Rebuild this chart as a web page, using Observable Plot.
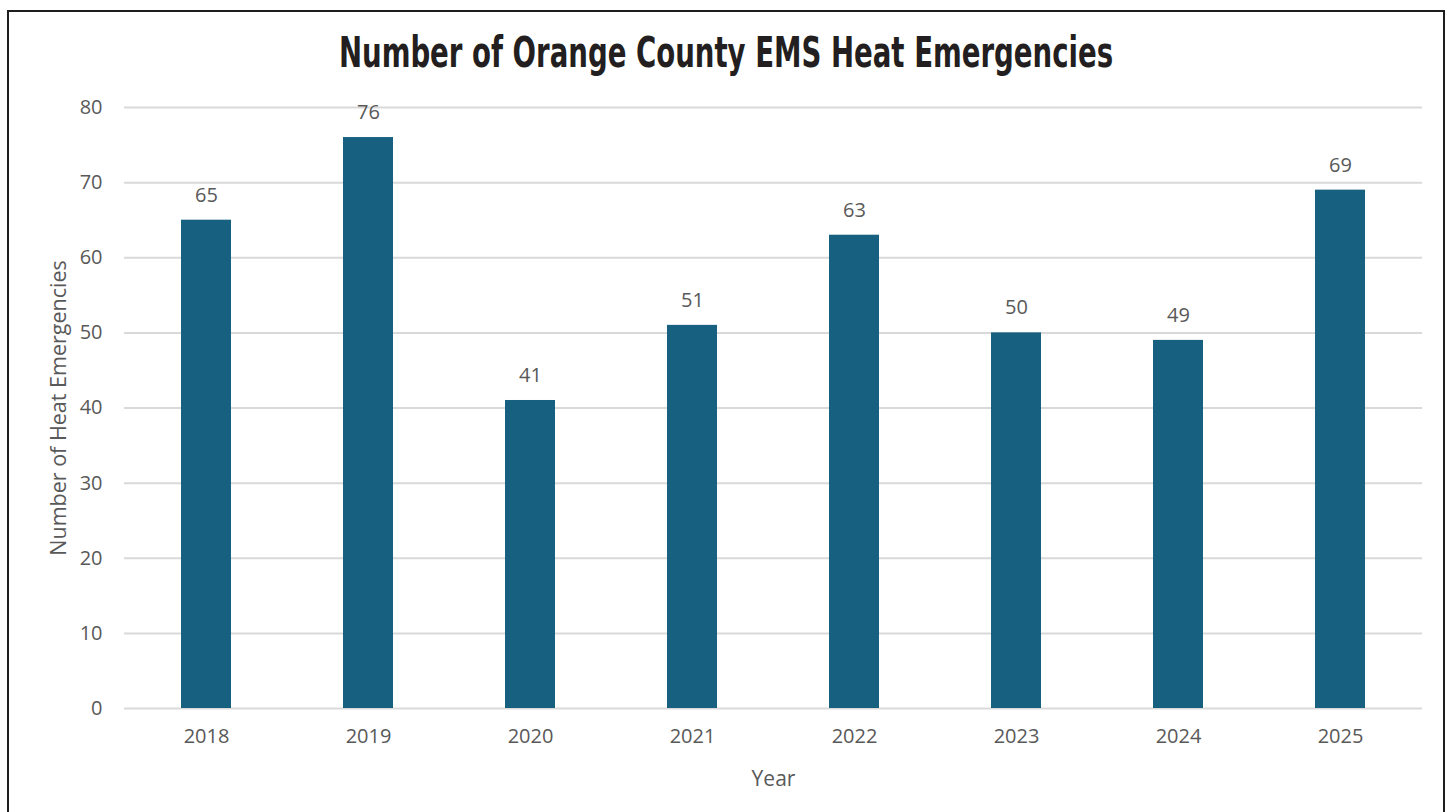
<!DOCTYPE html>
<html>
<head>
<meta charset="utf-8">
<script src="https://cdn.jsdelivr.net/npm/d3@7"></script>
<script src="https://cdn.jsdelivr.net/npm/@observablehq/plot@0.6"></script>
<style>
  html, body { margin: 0; padding: 0; background: #fff; width: 1449px; height: 812px; overflow: hidden; }
  #frame { position: absolute; left: 7px; top: 10px; width: 1434px; height: 900px; border: 2px solid #1e1e1e; box-sizing: content-box; }
  #title { position: absolute; left: 7px; top: 29px; width: 1438px; text-align: center;
           font-family: "Liberation Sans Narrow", "DejaVu Sans Condensed", "Arial Narrow", sans-serif;
           font-stretch: condensed; font-weight: bold; font-size: 42px; line-height: 48px; color: #231f20;
           transform: scaleX(0.73); transform-origin: 50% 50%; }
  #chart { position: absolute; left: 0; top: 0; }
</style>
</head>
<body>
<div id="frame"></div>
<div id="title">Number of Orange County EMS Heat Emergencies</div>
<div id="chart"></div>
<script>
const years = ["2018", "2019", "2020", "2021", "2022", "2023", "2024", "2025"];
const counts = [65, 76, 41, 51, 63, 50, 49, 69];
const yTicks = [0, 10, 20, 30, 40, 50, 60, 70, 80];

const data = years.map((year, i) => ({year, count: counts[i]}));

const textColor = "#595959";
const font = "'Open Sans', 'Liberation Sans', sans-serif";

const chart = Plot.plot({
  width: 1449,
  height: 812,
  marginLeft: 124,
  marginRight: 27,
  marginTop: 107,
  marginBottom: 104,
  style: { fontFamily: font, fontSize: "20px", color: textColor, background: "transparent", overflow: "visible" },
  x: { domain: years, paddingInner: 0.69, paddingOuter: 0.345 },
  y: { domain: [0, 80] },
  marks: [
    Plot.gridY(yTicks, { stroke: "#d9d9d9", strokeOpacity: 1, strokeWidth: 2 }),
    Plot.axisY(yTicks, {
      tickSize: 0, tickPadding: 22, fill: textColor, fontSize: 20,
      label: null
    }),
    Plot.axisY({
      ticks: [], tickSize: 0, fill: textColor, fontSize: 21.5,
      label: "Number of Heat Emergencies", labelAnchor: "center", labelArrow: "none", labelOffset: 74
    }),
    Plot.axisX({
      tickSize: 0, tickPadding: 20, fill: textColor, fontSize: 20,
      label: null
    }),
    Plot.axisX({
      ticks: [], tickSize: 0, fill: textColor, fontSize: 21,
      label: "Year", labelAnchor: "center", labelArrow: "none", labelOffset: 77
    }),
    Plot.barY(data, { x: "year", y: "count", fill: "#17607f" }),
    Plot.text(data, { x: "year", y: "count", text: d => String(d.count), dy: -25, fill: textColor, fontSize: 20 })
  ]
});
document.getElementById("chart").appendChild(chart);
</script>
</body>
</html>
